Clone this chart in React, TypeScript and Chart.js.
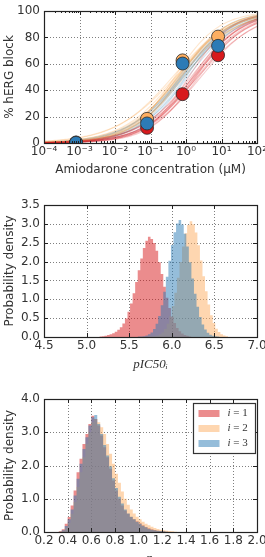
import { useEffect, useRef } from 'react';
import { Chart, registerables } from 'chart.js';

Chart.register(...registerables);

// ---- Data ----------------------------------------------------------------

// Measured % hERG block at each amiodarone concentration (μM), one list per experiment
const concentrationsUM = [0.0008, 0.08, 0.8, 8];
const blockObs1 = [0.2, 11.5, 37.0, 66.5];
const blockObs2 = [0.4, 18.3, 62.6, 80.6];
const blockObs3 = [0.1, 14.8, 60.2, 73.6];

// Posterior samples of the Hill-curve parameters (pIC50, Hill coefficient)
const pic50Samples1 = [5.58, 5.64, 5.69, 5.72, 5.74, 5.76, 5.79, 5.82, 5.86, 5.92, 5.67, 5.8];
const hillSamples1 = [0.56, 0.62, 0.58, 0.68, 0.6, 0.64, 0.55, 0.66, 0.59, 0.72, 0.52, 0.61];
const pic50Samples2 = [6.05, 6.12, 6.17, 6.2, 6.22, 6.25, 6.28, 6.32, 6.38, 6.15, 6.24, 6.3];
const hillSamples2 = [0.58, 0.62, 0.55, 0.66, 0.6, 0.64, 0.57, 0.7, 0.53, 0.68, 0.61, 0.5];
const pic50Samples3 = [5.95, 6.02, 6.06, 6.09, 6.11, 6.14, 6.18, 6.22, 6.0, 6.08, 6.13, 6.16];
const hillSamples3 = [0.6, 0.64, 0.58, 0.66, 0.62, 0.56, 0.68, 0.6, 0.7, 0.54, 0.63, 0.59];

// pIC50 posterior densities (histogram bin heights), first bin edge per experiment
const pic50BinWidth = 0.03;
const pic50Start1 = 5.15;
const pic50Density1 = [0.01, 0.02, 0.03, 0.05, 0.07, 0.1, 0.14, 0.19, 0.26, 0.36, 0.49, 0.67, 0.89, 1.16, 1.46, 1.77, 2.08, 2.36, 2.55, 2.66, 2.6, 2.49, 2.29, 1.98, 1.67, 1.33, 1.04, 0.77, 0.54, 0.37, 0.24, 0.15, 0.09, 0.05, 0.03, 0.01];
const pic50Start2 = 5.73;
const pic50Density2 = [0.01, 0.01, 0.02, 0.04, 0.07, 0.12, 0.21, 0.35, 0.55, 0.82, 1.17, 1.57, 1.99, 2.4, 2.75, 2.97, 3.07, 2.99, 2.77, 2.43, 2.03, 1.61, 1.21, 0.86, 0.58, 0.37, 0.22, 0.13, 0.07, 0.04, 0.02];
const pic50Start3 = 5.6;
const pic50Density3 = [0.01, 0.01, 0.02, 0.04, 0.07, 0.12, 0.21, 0.35, 0.56, 0.84, 1.2, 1.6, 2.02, 2.44, 2.78, 3.01, 3.1, 2.98, 2.74, 2.4, 1.98, 1.55, 1.15, 0.8, 0.53, 0.33, 0.2, 0.11, 0.06, 0.03, 0.02, 0.01];

// Hill coefficient posterior densities
const hillBinWidth = 0.025;
const hillStart1 = 0.3;
const hillDensity1 = [0.0, 0.02, 0.08, 0.25, 0.45, 0.8, 1.25, 1.8, 2.2, 2.65, 2.95, 3.25, 3.5, 3.4, 3.2, 2.9, 2.55, 2.25, 1.9, 1.55, 1.25, 1.0, 0.8, 0.65, 0.55, 0.45, 0.38, 0.32, 0.26, 0.2, 0.15, 0.11, 0.08, 0.06, 0.04, 0.03, 0.02, 0.01];
const hillStart2 = 0.325;
const hillDensity2 = [0.01, 0.03, 0.12, 0.28, 0.55, 0.9, 1.35, 1.8, 2.25, 2.65, 3.0, 3.3, 3.4, 3.3, 3.15, 2.95, 2.65, 2.35, 2.05, 1.75, 1.48, 1.22, 1.0, 0.82, 0.68, 0.56, 0.46, 0.38, 0.31, 0.25, 0.2, 0.16, 0.12, 0.09, 0.07, 0.05, 0.04, 0.03, 0.02, 0.01];
const hillStart3 = 0.3;
const hillDensity3 = [0.0, 0.01, 0.05, 0.18, 0.38, 0.68, 1.1, 1.6, 2.05, 2.5, 2.85, 3.2, 3.45, 3.52, 3.25, 2.95, 2.62, 2.3, 1.98, 1.62, 1.32, 1.06, 0.86, 0.68, 0.56, 0.46, 0.38, 0.31, 0.25, 0.19, 0.14, 0.1, 0.07, 0.05, 0.04, 0.03, 0.02, 0.01];

const seriesLabels = ['i = 1', 'i = 2', 'i = 3'];
const concDecades = [-4, -3, -2, -1, 0, 1, 2];

// ---- Styling -------------------------------------------------------------

const RED = [215, 25, 28];
const ORANGE = [253, 174, 97];
const BLUE = [44, 123, 182];
const rgba = (c: number[], a: number) => `rgba(${c[0]},${c[1]},${c[2]},${a})`;

const TEXT = '#333';
const SANS = '"DejaVu Sans", sans-serif';
const tickFont = { family: SANS, size: 12 };
const titleFont = { family: SANS, size: 12 };
const mathFont = { family: '"Liberation Serif", serif', size: 13, style: 'italic' as const };

const SUP: Record<string, string> = { '-': '⁻', '0': '⁰', '1': '¹', '2': '²', '3': '³', '4': '⁴', '5': '⁵', '6': '⁶', '7': '⁷', '8': '⁸', '9': '⁹' };
const powerLabel = (e: number) => '10' + String(e).split('').map((ch) => SUP[ch]).join('');

// Hill equation: % block for a concentration in μM
function hillBlock(conc: number, pic50: number, hill: number) {
  const ic50 = Math.pow(10, 6 - pic50);
  return 100 / (1 + Math.pow(ic50 / conc, hill));
}

const curveConcs = Array.from({ length: 121 }, (_, k) => Math.pow(10, -4 + k * 0.05));

function curveDatasets(pics: number[], hills: number[], color: number[], alpha: number) {
  return pics.map((p, k) => ({
    data: curveConcs.map((c) => ({ x: c, y: hillBlock(c, p, hills[k]) })),
    borderColor: rgba(color, alpha),
    borderWidth: 1.1,
    pointRadius: 0,
    tension: 0,
    clip: 0,
    order: 0,
  }));
}

// Lower `order` is drawn later, so blue markers end up on top
function pointDataset(values: number[], color: number[], order: number) {
  return {
    data: concentrationsUM.map((c, k) => ({ x: c, y: values[k] })),
    showLine: false,
    pointRadius: 6.5,
    pointHoverRadius: 6.5,
    pointBackgroundColor: rgba(color, 1),
    pointBorderColor: '#2a2a2a',
    pointBorderWidth: 0.8,
    clip: 0,
    order,
  };
}

function histDataset(label: string, start: number, width: number, dens: number[], color: number[], alpha: number, order: number) {
  const pts = dens.map((d, k) => ({ x: start + k * width, y: d }));
  pts.push({ x: start + dens.length * width, y: 0 });
  return {
    label,
    data: pts,
    stepped: 'before' as const,
    fill: 'origin',
    backgroundColor: rgba(color, alpha),
    borderColor: 'transparent',
    borderWidth: 0,
    pointRadius: 0,
    clip: 0,
    order,
  };
}

// Dotted grid at every major tick, under the data
const dottedGrid = {
  id: 'dottedGrid',
  beforeDatasetsDraw(chart: any) {
    const { ctx, chartArea: a, scales } = chart;
    const xs = scales.x;
    const ys = scales.y;
    ctx.save();
    ctx.strokeStyle = 'rgba(0,0,0,0.5)';
    ctx.lineWidth = 1;
    ctx.setLineDash([1, 2]);
    ctx.beginPath();
    xs.ticks.forEach((t: any) => {
      const px = Math.round(xs.getPixelForValue(t.value)) + 0.5;
      ctx.moveTo(px, a.top);
      ctx.lineTo(px, a.bottom);
    });
    ys.ticks.forEach((t: any) => {
      const py = Math.round(ys.getPixelForValue(t.value)) + 0.5;
      ctx.moveTo(a.left, py);
      ctx.lineTo(a.right, py);
    });
    ctx.stroke();
    ctx.restore();
  },
};

// Axes frame with inward ticks on all four sides
const axesFrame = {
  id: 'axesFrame',
  afterDatasetsDraw(chart: any) {
    const { ctx, chartArea: a, scales } = chart;
    const xs = scales.x;
    const ys = scales.y;
    ctx.save();
    ctx.strokeStyle = '#222';
    ctx.lineWidth = 1;
    ctx.beginPath();
    const vTick = (px: number, len: number) => {
      const x = Math.round(px) + 0.5;
      ctx.moveTo(x, a.bottom);
      ctx.lineTo(x, a.bottom - len);
      ctx.moveTo(x, a.top);
      ctx.lineTo(x, a.top + len);
    };
    const hTick = (py: number, len: number) => {
      const y = Math.round(py) + 0.5;
      ctx.moveTo(a.left, y);
      ctx.lineTo(a.left + len, y);
      ctx.moveTo(a.right, y);
      ctx.lineTo(a.right - len, y);
    };
    xs.ticks.forEach((t: any) => vTick(xs.getPixelForValue(t.value), 4));
    ys.ticks.forEach((t: any) => hTick(ys.getPixelForValue(t.value), 4));
    if (xs.type === 'logarithmic') {
      for (let e = -4; e < 2; e++) {
        for (let m = 2; m <= 9; m++) vTick(xs.getPixelForValue(m * Math.pow(10, e)), 2);
      }
    }
    ctx.stroke();
    ctx.lineWidth = 1.2;
    ctx.strokeRect(Math.round(a.left) + 0.5, Math.round(a.top) + 0.5, Math.round(a.right - a.left), Math.round(a.bottom - a.top));
    ctx.restore();
  },
};

// Framed legend in the upper right of the plot area
const boxLegend = {
  id: 'boxLegend',
  afterDraw(chart: any) {
    const opts = chart.options.plugins.boxLegend;
    if (!opts || !opts.show) return;
    const { ctx, chartArea: a } = chart;
    const sets = chart.data.datasets;
    const w = 62;
    const h = 50;
    const left = Math.round(a.right - w - 2) + 0.5;
    const top = Math.round(a.top + 4) + 0.5;
    ctx.save();
    ctx.fillStyle = '#fff';
    ctx.fillRect(left, top, w, h);
    ctx.strokeStyle = '#333';
    ctx.lineWidth = 1.2;
    ctx.strokeRect(left, top, w, h);
    sets.forEach((ds: any, k: number) => {
      const cy = top + 10 + k * 15;
      ctx.fillStyle = ds.backgroundColor;
      ctx.fillRect(left + 5, cy - 3.5, 21, 7);
      const v = ds.label.slice(0, 1);
      const rest = ds.label.slice(1);
      ctx.fillStyle = TEXT;
      ctx.textBaseline = 'middle';
      ctx.textAlign = 'left';
      ctx.font = 'italic 11px "Liberation Serif", serif';
      const tx = left + 34;
      ctx.fillText(v, tx, cy);
      const vw = ctx.measureText(v).width;
      ctx.font = '11px "Liberation Serif", serif';
      ctx.fillText(rest, tx + vw, cy);
    });
    ctx.restore();
  },
};

function fixBox(width?: number, height?: number) {
  return (scale: any) => {
    if (width !== undefined) scale.width = width;
    if (height !== undefined) scale.height = height;
    scale.paddingLeft = 0;
    scale.paddingRight = 0;
    scale.paddingTop = 0;
    scale.paddingBottom = 0;
  };
}

const hiddenGrid = { display: false, drawTicks: false };

function yAxis(min: number, max: number, step: number, title: string, digits: number) {
  return {
    type: 'linear' as const,
    min,
    max,
    afterFit: fixBox(44, undefined),
    border: { display: false },
    grid: hiddenGrid,
    ticks: {
      stepSize: step,
      padding: 4,
      color: TEXT,
      font: tickFont,
      callback: (v: any) => Number(v).toFixed(digits),
    },
    title: { display: true, text: title, color: TEXT, font: titleFont, padding: { top: 3, bottom: 0 } },
  };
}

function baseOptions(padTop: number, scales: any, extraPlugins: any = {}) {
  return {
    responsive: false,
    animation: false as const,
    events: [],
    layout: { padding: { top: padTop, right: 8, left: 0, bottom: 0 } },
    plugins: { legend: { display: false }, tooltip: { enabled: false }, ...extraPlugins },
    scales,
  };
}

function doseResponseConfig(): any {
  const datasets = [
    ...curveDatasets(pic50Samples1, hillSamples1, RED, 0.22),
    ...curveDatasets(pic50Samples2, hillSamples2, ORANGE, 0.3),
    ...curveDatasets(pic50Samples3, hillSamples3, BLUE, 0.2),
    pointDataset(blockObs1, RED, -1),
    pointDataset(blockObs2, ORANGE, -2),
    pointDataset(blockObs3, BLUE, -3),
  ];
  return {
    type: 'line',
    data: { datasets },
    options: baseOptions(11, {
      x: {
        type: 'logarithmic',
        min: 1e-4,
        max: 1e2,
        afterFit: fixBox(undefined, 42),
        afterBuildTicks: (scale: any) => {
          scale.ticks = concDecades.map((e) => ({ value: Math.pow(10, e) }));
        },
        border: { display: false },
        grid: hiddenGrid,
        ticks: {
          autoSkip: false,
          maxRotation: 0,
          padding: 2,
          color: TEXT,
          font: tickFont,
          callback: (v: any) => powerLabel(Math.round(Math.log10(Number(v)))),
        },
        title: { display: true, text: 'Amiodarone concentration (μM)', color: TEXT, font: titleFont, padding: { top: 0, bottom: 8 } },
      },
      y: yAxis(0, 100, 20, '% hERG block', 0),
    }),
    plugins: [dottedGrid, axesFrame],
  };
}

function histConfig(
  padTop: number,
  xHeight: number,
  xMin: number,
  xMax: number,
  xStep: number,
  yMax: number,
  xTitle: string,
  titlePad: number,
  datasets: any[],
  legend: boolean
): any {
  return {
    type: 'line',
    data: { datasets },
    options: baseOptions(
      padTop,
      {
        x: {
          type: 'linear',
          min: xMin,
          max: xMax,
          afterFit: fixBox(undefined, xHeight),
          border: { display: false },
          grid: hiddenGrid,
          ticks: {
            stepSize: xStep,
            autoSkip: false,
            maxRotation: 0,
            padding: 2,
            color: TEXT,
            font: tickFont,
            callback: (v: any) => Number(v).toFixed(1),
          },
          title: { display: true, text: xTitle, color: TEXT, font: mathFont, padding: { top: 0, bottom: titlePad } },
        },
        y: yAxis(0, yMax, 0.5, 'Probability density', 1),
      },
      { boxLegend: { show: legend } }
    ),
    plugins: [dottedGrid, axesFrame, boxLegend],
  };
}

export default function App() {
  const doseRef = useRef<HTMLCanvasElement>(null);
  const pic50Ref = useRef<HTMLCanvasElement>(null);
  const hillRef = useRef<HTMLCanvasElement>(null);

  useEffect(() => {
    const charts: Chart[] = [];
    if (doseRef.current) charts.push(new Chart(doseRef.current, doseResponseConfig()));
    if (pic50Ref.current)
      charts.push(
        new Chart(
          pic50Ref.current,
          histConfig(20, 38, 4.5, 7.0, 0.5, 3.5, 'pIC50ᵢ', 3, [
            histDataset(seriesLabels[0], pic50Start1, pic50BinWidth, pic50Density1, RED, 0.5, 3),
            histDataset(seriesLabels[1], pic50Start2, pic50BinWidth, pic50Density2, ORANGE, 0.5, 2),
            histDataset(seriesLabels[2], pic50Start3, pic50BinWidth, pic50Density3, BLUE, 0.5, 1),
          ], false)
        )
      );
    if (hillRef.current)
      charts.push(
        new Chart(
          hillRef.current,
          histConfig(24, 37, 0.2, 2.0, 0.2, 4.0, 'nᵢ', 3, [
            histDataset(seriesLabels[0], hillStart1, hillBinWidth, hillDensity1, RED, 0.5, 3),
            histDataset(seriesLabels[1], hillStart2, hillBinWidth, hillDensity2, ORANGE, 0.5, 2),
            histDataset(seriesLabels[2], hillStart3, hillBinWidth, hillDensity3, BLUE, 0.5, 1),
          ], true)
        )
      );
    return () => charts.forEach((c) => c.destroy());
  }, []);

  return (
    <div style={{ position: 'fixed', left: 0, top: 0, width: 265, height: 557, overflow: 'hidden', background: '#fff' }}>
      <canvas ref={doseRef} width={265} height={185} style={{ position: 'absolute', left: 0, top: 0 }} />
      <canvas ref={pic50Ref} width={265} height={190} style={{ position: 'absolute', left: 0, top: 185 }} />
      <canvas ref={hillRef} width={265} height={194} style={{ position: 'absolute', left: 0, top: 375 }} />
    </div>
  );
}
